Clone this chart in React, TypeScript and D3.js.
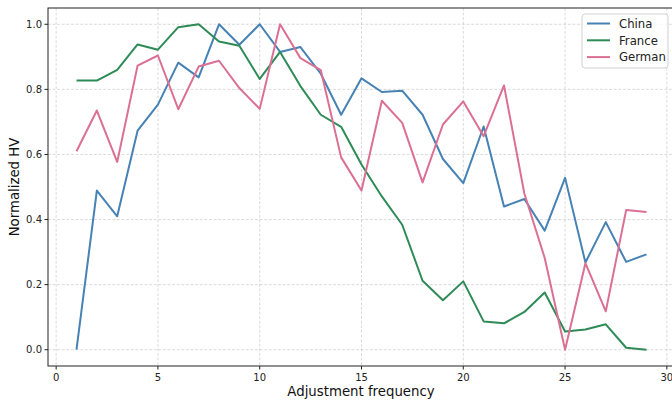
import React from "react"
import * as d3 from "d3"

// values, x = 1..29
const steps = d3.range(1, 30)
const china = [0.0, 0.489, 0.41, 0.673, 0.753, 0.882, 0.837, 1.0, 0.937, 1.0, 0.915, 0.93, 0.848, 0.722, 0.834, 0.792, 0.796, 0.722, 0.586, 0.512, 0.686, 0.44, 0.463, 0.366, 0.528, 0.268, 0.392, 0.27, 0.293]
const france = [0.827, 0.827, 0.86, 0.938, 0.922, 0.991, 1.0, 0.947, 0.934, 0.832, 0.915, 0.81, 0.722, 0.685, 0.569, 0.471, 0.384, 0.212, 0.152, 0.21, 0.087, 0.081, 0.116, 0.176, 0.056, 0.062, 0.078, 0.006, 0.0]
const german = [0.61, 0.735, 0.577, 0.873, 0.904, 0.739, 0.87, 0.888, 0.804, 0.74, 1.0, 0.896, 0.859, 0.591, 0.489, 0.765, 0.697, 0.514, 0.692, 0.763, 0.656, 0.812, 0.48, 0.282, 0.0, 0.266, 0.118, 0.429, 0.423]

const seriesNames = ["China", "France", "German"]
const seriesColors = ["#4682b4", "#2e8b57", "#db7093"]
const seriesData = [china, france, german]

const xTicks = [0, 5, 10, 15, 20, 25, 30]
const yTicks = [0, 0.2, 0.4, 0.6, 0.8, 1.0]

const width = 672
const height = 401
const margin = { top: 8, right: -3, bottom: 35, left: 48 }
const font = "DejaVu Sans, sans-serif"

export default function App() {
  const x = d3.scaleLinear().domain([-0.4, 30.4]).range([margin.left, width - margin.right])
  const y = d3.scaleLinear().domain([-0.05, 1.05]).range([height - margin.bottom, margin.top])

  const line = d3.line<number>()
    .x((d, i) => x(steps[i]))
    .y(d => y(d))

  const bottom = height - margin.bottom
  const right = width - margin.right

  return (
    <svg width={width} height={height} style={{ position: "absolute", left: 0, top: 0, fontFamily: font }}>
      <rect x={0} y={0} width={width} height={height} fill="white" />
      {/* grid */}
      <g stroke="#b0b0b0" strokeOpacity={0.6} strokeWidth={0.8} strokeDasharray="2.8,1.8">
        {xTicks.map(t => (
          <line key={"gx" + t} x1={x(t)} x2={x(t)} y1={margin.top} y2={bottom} />
        ))}
        {yTicks.map(t => (
          <line key={"gy" + t} x1={margin.left} x2={right} y1={y(t)} y2={y(t)} />
        ))}
      </g>
      {/* lines */}
      {seriesData.map((s, i) => (
        <path key={seriesNames[i]} d={line(s) || ""} fill="none" stroke={seriesColors[i]} strokeWidth={2} strokeLinejoin="round" />
      ))}
      {/* spines */}
      <rect x={margin.left} y={margin.top} width={right - margin.left} height={bottom - margin.top} fill="none" stroke="#222" strokeWidth={1} />
      {/* x ticks */}
      {xTicks.map(t => (
        <g key={"tx" + t}>
          <line x1={x(t)} x2={x(t)} y1={bottom} y2={bottom + 3.5} stroke="#222" />
          <text x={x(t)} y={bottom + 14.5} textAnchor="middle" fontSize={10} fill="#222">{t}</text>
        </g>
      ))}
      {/* y ticks */}
      {yTicks.map(t => (
        <g key={"ty" + t}>
          <line x1={margin.left - 3.5} x2={margin.left} y1={y(t)} y2={y(t)} stroke="#222" />
          <text x={margin.left - 6} y={y(t) + 3.5} textAnchor="end" fontSize={10} fill="#222">{t.toFixed(1)}</text>
        </g>
      ))}
      <text x={361} y={396} textAnchor="middle" fontSize={13.3} fill="#111">Adjustment frequency</text>
      <text transform={`translate(19,${(margin.top + bottom) / 2}) rotate(-90)`} textAnchor="middle" fontSize={13.3} fill="#111">Normalized HV</text>
      {/* legend */}
      <g transform="translate(582,14)">
        <rect x={0} y={0} width={86} height={54} rx={3} fill="white" fillOpacity={0.8} stroke="#d0d0d0" strokeWidth={1} />
        {seriesNames.map((n, i) => (
          <g key={"lg" + n} transform={`translate(0,${9.5 + i * 16.8})`}>
            <line x1={5} x2={28} y1={0} y2={0} stroke={seriesColors[i]} strokeWidth={2} />
            <text x={37} y={4.2} fontSize={11.7} fill="#222">{n}</text>
          </g>
        ))}
      </g>
    </svg>
  )
}
